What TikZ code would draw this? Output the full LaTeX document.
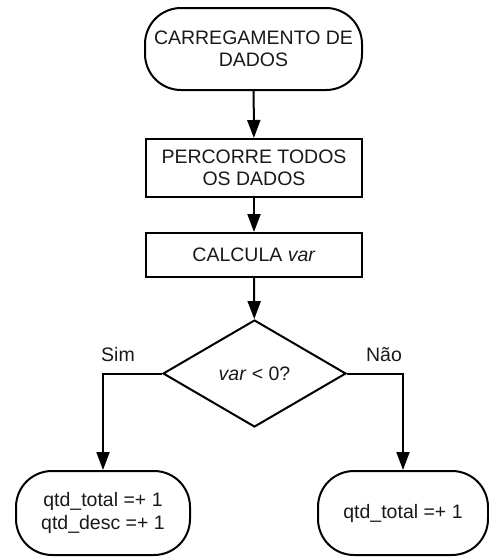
\documentclass[tikz,border=0pt]{standalone}
\usepackage{fontspec}
\setmainfont{Liberation Sans}
\usetikzlibrary{arrows.meta,shapes.geometric}
\begin{document}
\begin{tikzpicture}[x=1pt,y=-1pt,
  every node/.style={font=\fontsize{19.5}{22.5}\selectfont, text=black!90, align=center},
  term/.style={draw, line width=2pt, rounded corners=36pt, inner sep=0pt},
  procbox/.style={draw, line width=2pt, minimum width=216pt, inner sep=0pt},
  decision/.style={draw, line width=2pt, diamond, aspect=1.71, minimum width=183pt, minimum height=107pt, inner sep=0pt},
  conn/.style={line width=2pt, -{Triangle[length=18pt,width=13pt]}},
  lbl/.style={inner sep=0pt}]
\useasboundingbox (0,0) rectangle (489,557);
\node[term, minimum width=217pt, minimum height=82pt] (start) at (253.5,49) {CARREGAMENTO DE\\DADOS};
\node[procbox, minimum height=58pt] (percorre) at (254,168) {PERCORRE TODOS\\OS DADOS};
\node[procbox, minimum height=44pt] (calcula) at (254,255) {CALCULA \textit{var}};
\node[decision] (dec) at (254.5,373.5) {\textit{var} < 0?};
\node[term, minimum width=174pt, minimum height=84pt] (sim) at (103,513) {qtd\_total =+ 1\\qtd\_desc =+ 1};
\node[term, minimum width=170pt, minimum height=84pt] (nao) at (403,513) {qtd\_total =+ 1};
\node[lbl] (simlbl) at (118,355) {Sim};
\node[lbl] (naolbl) at (384,355) {Não};
\draw[conn] (start) -- (percorre);
\draw[conn] (percorre) -- (calcula);
\draw[conn] (calcula) -- (dec);
\draw[conn] (dec.west) -| (sim.north);
\draw[conn] (dec.east) -| (nao.north);
\end{tikzpicture}
\end{document}
